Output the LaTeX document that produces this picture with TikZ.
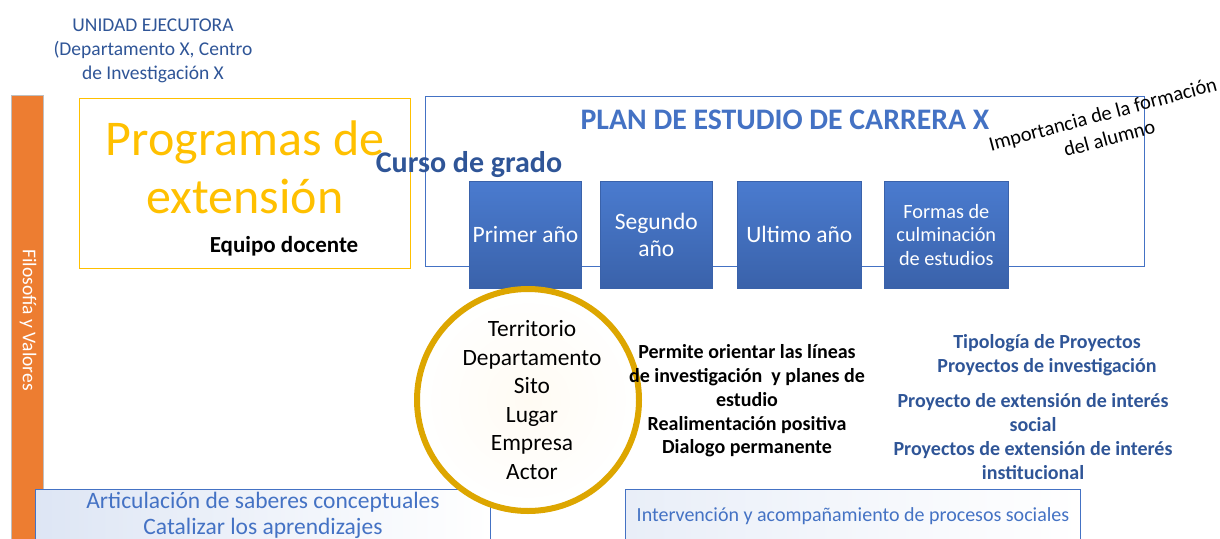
\documentclass[tikz,border=0pt]{standalone}
\usepackage{fontspec}
\setmainfont{Carlito}
\definecolor{dblue}{HTML}{2F5597}
\definecolor{mblue}{HTML}{4472C4}
\definecolor{boxtop}{HTML}{4A7BCF}
\definecolor{boxbot}{HTML}{3A62AA}
\definecolor{gold}{HTML}{FFC000}
\definecolor{ring}{HTML}{DDA600}
\definecolor{orng}{HTML}{ED7D31}
\definecolor{cream}{HTML}{FFFBF3}
\tikzset{
  yearbox/.style={draw=boxbot, line width=0.6pt, top color=boxtop, bottom color=boxbot, text=white, align=center, font=\fontsize{23.5}{27}\selectfont},
  lbl/.style={align=center, inner sep=0pt},
}
\begin{document}
\begin{tikzpicture}[x=1pt,y=-1pt]
\useasboundingbox (0,0) rectangle (1220,538);
\clip (0,0) rectangle (1220,538);
% orange bar
\fill[orng, draw=gray!50, line width=1pt] (11,95) rectangle (43,545);
\node[lbl, rotate=-90, text=white, font=\fontsize{19.5}{23}\selectfont] (filo) at (28,320) {Filosofía y Valores};
% unidad ejecutora
\node[lbl, text=dblue, font=\fontsize{19.5}{24}\selectfont] (unidad) at (153,51) {UNIDAD EJECUTORA\\(Departamento X, Centro\\de Investigación X};
% programas box
\draw[gold, line width=1pt] (79,98) rectangle (410,268);
\node[lbl, text=gold, font=\fontsize{50}{58}\selectfont] (prog) at (245,167) {Programas de\\extensión};
\node[lbl, font=\bfseries\fontsize{23}{27}\selectfont] (equipo) at (284,246) {Equipo docente};
% plan box
\draw[mblue, line width=1pt] (425,96) rectangle (1144,266);
\node[lbl, text=mblue, font=\bfseries\fontsize{29.8}{34}\selectfont] (plan) at (785,120) {PLAN DE ESTUDIO DE CARRERA X};
\node[lbl, text=dblue, font=\bfseries\fontsize{30}{34}\selectfont] (curso) at (469,165) {Curso de grado};
\node[lbl, rotate=15, font=\fontsize{20.5}{25}\selectfont] (imp) at (1106,126) {Importancia de la formación\\del alumno};
% year boxes
\node[yearbox, minimum width=112pt, minimum height=107pt, anchor=north west] (y1) at (469,181) {Primer año};
\node[yearbox, minimum width=112pt, minimum height=107pt, anchor=north west] (y2) at (600,181) {Segundo\\año};
\node[yearbox, minimum width=124pt, minimum height=107pt, anchor=north west] (y3) at (737,181) {Ultimo año};
\node[yearbox, minimum width=124pt, minimum height=107pt, anchor=north west, font=\fontsize{20.3}{23.5}\selectfont] (y4) at (884,181) {Formas de\\culminación\\de estudios};
% bottom boxes
\node[draw=mblue, line width=0.8pt, left color=mblue!18, right color=white, minimum width=455pt, minimum height=80pt, anchor=north west, inner sep=0pt] (artbox) at (35,489) {};
\node[lbl, text=mblue, font=\fontsize{23.5}{26}\selectfont] (art) at (263,515) {Articulación de saberes conceptuales\\Catalizar los aprendizajes};
\node[draw=mblue, line width=0.8pt, left color=mblue!12, right color=white, minimum width=455pt, minimum height=80pt, anchor=north west, inner sep=0pt] (intbox) at (625,489) {};
\node[lbl, text=mblue, font=\fontsize{20}{24}\selectfont] (int) at (853,516) {Intervención y acompañamiento de procesos sociales};
% circle
\node[circle, draw=ring, line width=6pt, inner color=cream, outer color=white, minimum size=222pt, inner sep=0pt] (circ) at (528,400) {};
\node[lbl, font=\fontsize{23.4}{28.5}\selectfont] (terr) at (532,400) {Territorio\\Departamento\\Sito\\Lugar\\Empresa\\Actor};
% middle text
\node[lbl, font=\bfseries\fontsize{20}{23.8}\selectfont] (perm) at (747,401) {Permite orientar las líneas\\de investigación\ \ y planes de\\estudio\\Realimentación positiva\\Dialogo permanente};
% right text
\node[lbl, text=dblue, font=\bfseries\fontsize{20}{24}\selectfont] (tipo) at (1047,355) {Tipología de Proyectos\\Proyectos de investigación};
\node[lbl, text=dblue, font=\bfseries\fontsize{20}{24}\selectfont] (ext) at (1033,437) {Proyecto de extensión de interés\\social\\Proyectos de extensión de interés\\institucional};
\end{tikzpicture}
\end{document}
